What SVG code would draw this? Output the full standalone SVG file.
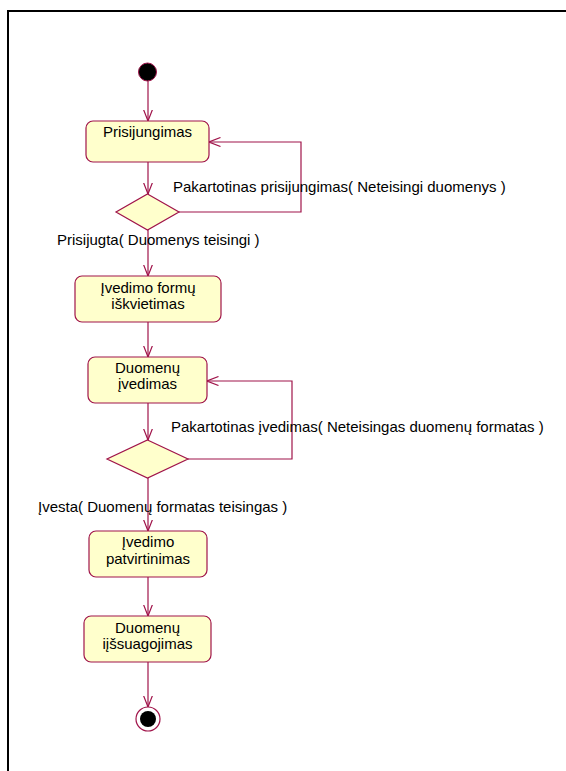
<svg xmlns="http://www.w3.org/2000/svg" width="566" height="771" viewBox="0 0 566 771">
<defs>
<style>
.box{fill:#FFFFCC;stroke:#A0144A;stroke-width:1.2}
.dia{fill:#FFFFCC;stroke:#A0144A;stroke-width:1.2}
.edge{fill:none;stroke:#A0144A;stroke-width:1.2}
text{font-family:"Liberation Sans",Arial,sans-serif;font-size:15px;fill:#000}
.c{text-anchor:middle}
</style>
<marker id="arr" viewBox="0 0 12 10" refX="11.5" refY="5" markerWidth="12" markerHeight="10" markerUnits="userSpaceOnUse" orient="auto">
<path d="M0,0.5 L11.5,5 L0,9.5" fill="none" stroke="#A0144A" stroke-width="1.2"/>
</marker>
</defs>
<rect x="0" y="0" width="566" height="771" fill="#fff"/>
<rect x="8" y="11" width="600" height="800" fill="none" stroke="#000" stroke-width="2"/>
<g id="connectors">
<path class="edge" d="M148,81 L148,121" marker-end="url(#arr)"/>
<path class="edge" d="M148,162 L148,194" marker-end="url(#arr)"/>
<path class="edge" d="M179,212 L301,212 L301,142 L209,142" marker-end="url(#arr)"/>
<path class="edge" d="M148,230 L148,276" marker-end="url(#arr)"/>
<path class="edge" d="M148,322 L148,357" marker-end="url(#arr)"/>
<path class="edge" d="M148,403 L148,440" marker-end="url(#arr)"/>
<path class="edge" d="M188,459 L292,459 L292,381 L207,381" marker-end="url(#arr)"/>
<path class="edge" d="M148,478 L148,531" marker-end="url(#arr)"/>
<path class="edge" d="M148,577 L148,616" marker-end="url(#arr)"/>
<path class="edge" d="M148,662 L148,707" marker-end="url(#arr)"/>
<text x="173" y="192">Pakartotinas prisijungimas( Neteisingi duomenys )</text>
<text x="57" y="245">Prisijugta( Duomenys teisingi )</text>
<text x="171" y="432">Pakartotinas įvedimas( Neteisingas duomenų formatas )</text>
<text x="38" y="512">Įvesta( Duomenų formatas teisingas )</text>
</g>
<g id="start"><circle cx="147.5" cy="72" r="9" fill="#000" stroke="#A0144A" stroke-width="1"/></g>
<g id="prisijungimas">
<rect class="box" x="86" y="121" width="123" height="41" rx="7"/>
<text class="c" x="147.5" y="137">Prisijungimas</text>
</g>
<g id="decision1"><polygon class="dia" points="147.5,194 179,212 147.5,230 116,212"/></g>
<g id="ivedimo-formu">
<rect class="box" x="75" y="276" width="146" height="46" rx="7"/>
<text class="c" x="148" y="293">Įvedimo formų</text>
<text class="c" x="148" y="309">iškvietimas</text>
</g>
<g id="duomenu-ivedimas">
<rect class="box" x="88" y="357" width="119" height="46" rx="7"/>
<text class="c" x="147.5" y="373">Duomenų</text>
<text class="c" x="147.5" y="389">įvedimas</text>
</g>
<g id="decision2"><polygon class="dia" points="147.5,440 188,459 147.5,478 107,459"/></g>
<g id="ivedimo-patvirtinimas">
<rect class="box" x="89" y="531" width="118" height="46" rx="7"/>
<text class="c" x="148" y="547">Įvedimo</text>
<text class="c" x="148" y="564">patvirtinimas</text>
</g>
<g id="duomenu-issaugojimas">
<rect class="box" x="84" y="616" width="127" height="46" rx="7"/>
<text class="c" x="147.5" y="633">Duomenų</text>
<text class="c" x="147.5" y="649">iįšsuagojimas</text>
</g>
<g id="end">
<circle cx="148" cy="719" r="12" fill="#fff" stroke="#A0144A" stroke-width="1.2"/>
<circle cx="148" cy="719" r="8" fill="#000"/>
</g>
</svg>
